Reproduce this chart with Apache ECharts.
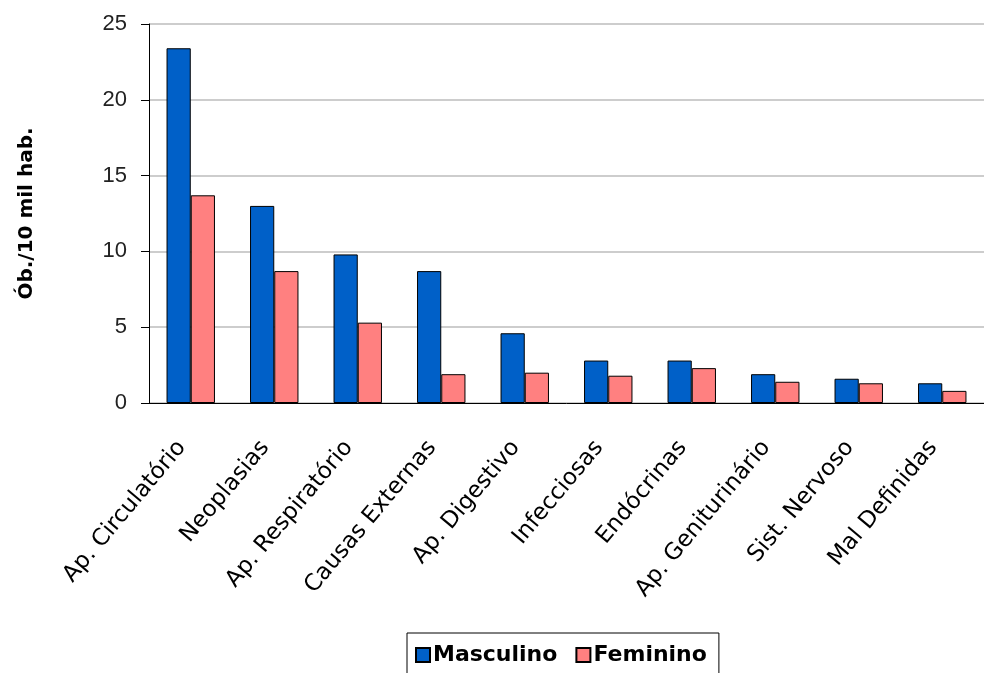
<!DOCTYPE html>
<html>
<head>
<meta charset="utf-8">
<script src="https://cdn.jsdelivr.net/npm/echarts@6/dist/echarts.min.js"></script>
<style>
  html, body { margin: 0; padding: 0; background: #fff; }
  #chart { width: 984px; height: 673px; }
</style>
</head>
<body>
<div id="chart"></div>
<script>
// Mortality by cause group and sex (deaths per 10 thousand inhabitants)
const categories = [
  'Ap. Circulatório', 'Neoplasias', 'Ap. Respiratório', 'Causas Externas',
  'Ap. Digestivo', 'Infecciosas', 'Endócrinas', 'Ap. Geniturinário',
  'Sist. Nervoso', 'Mal Definidas'
];
const masculino = [23.4, 13.0, 9.8, 8.7, 4.6, 2.8, 2.8, 1.9, 1.6, 1.3];
const feminino  = [13.7, 8.7, 5.3, 1.9, 2.0, 1.8, 2.3, 1.4, 1.3, 0.8];
const yTicks = [0, 5, 10, 15, 20, 25];

const chart = echarts.init(document.getElementById('chart'));
chart.setOption({
  animation: false,
  backgroundColor: '#ffffff',
  grid: { left: 149, top: 24, right: -4, bottom: 270, containLabel: false },
  legend: {
    left: 407,
    top: 633,
    padding: [11, 12, 11, 8],
    borderColor: '#000',
    borderWidth: 1,
    itemWidth: 14,
    itemHeight: 14,
    itemGap: 18,
    icon: 'rect',
    textStyle: { fontFamily: 'DejaVu Sans', fontWeight: 'bold', fontSize: 22, color: '#000', padding: [0, 0, 0, -2] },
    data: ['Masculino', 'Feminino']
  },
  xAxis: {
    type: 'category',
    data: categories,
    axisLine: { lineStyle: { color: '#000', width: 1 } },
    axisTick: { length: 9, lineStyle: { color: '#000' } },
    axisLabel: {
      rotate: 50,
      margin: 30,
      padding: [0, 14, 0, 0],
      fontFamily: 'DejaVu Sans',
      fontSize: 23,
      color: '#000',
      interval: 0
    }
  },
  yAxis: {
    type: 'value',
    min: yTicks[0],
    max: yTicks[yTicks.length - 1],
    interval: 5,
    name: 'Ób./10 mil hab.',
    nameLocation: 'middle',
    nameGap: 112,
    nameRotate: 90,
    nameTextStyle: { fontFamily: 'DejaVu Sans', fontWeight: 'bold', fontSize: 20, color: '#000' },
    axisLine: { show: true, lineStyle: { color: '#000', width: 1 } },
    axisTick: { show: true, length: 8, lineStyle: { color: '#000' } },
    axisLabel: { margin: 22, fontFamily: 'Liberation Sans', fontSize: 22, color: '#222' },
    splitLine: { lineStyle: { color: '#bdbdbd', width: 1.5 } }
  },
  series: [
    {
      name: 'Masculino',
      type: 'bar',
      data: masculino,
      barGap: '0%',
      barCategoryGap: '42%',
      itemStyle: { color: '#0060c8', borderColor: '#000', borderWidth: 1 }
    },
    {
      name: 'Feminino',
      type: 'bar',
      data: feminino,
      barGap: '0%',
      barCategoryGap: '42%',
      itemStyle: { color: '#ff8080', borderColor: '#000', borderWidth: 1 }
    }
  ]
});
</script>
</body>
</html>
